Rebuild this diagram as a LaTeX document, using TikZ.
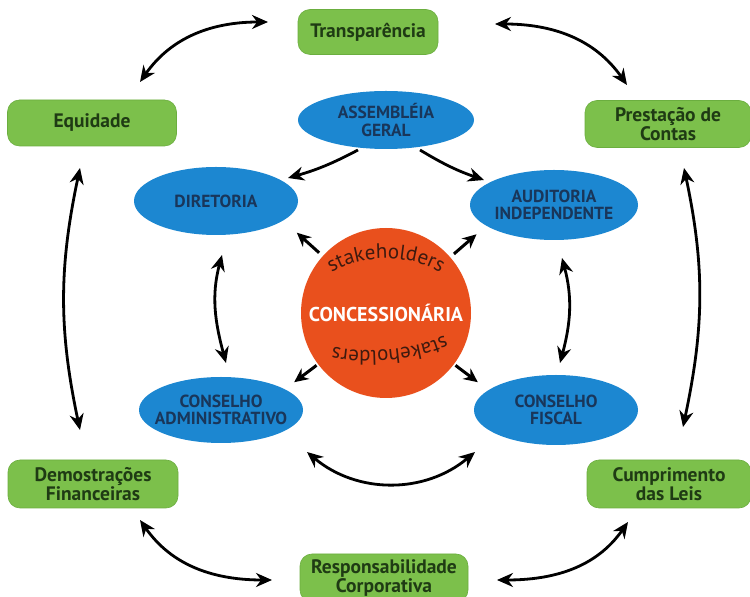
\documentclass[tikz,border=0pt]{standalone}
\usepackage{fontspec}
\setmainfont{PT Sans}
\usetikzlibrary{arrows.meta,shapes.geometric,decorations.text}

\definecolor{boxgreen}{HTML}{7CC04B}
\definecolor{boxgreenedge}{HTML}{6BAE3F}
\definecolor{greentext}{HTML}{1F3B14}
\definecolor{ellblue}{HTML}{1C87D1}
\definecolor{bluetext}{HTML}{19365A}
\definecolor{coreorange}{HTML}{E9501D}
\definecolor{staketext}{HTML}{3E1A0F}

\begin{document}
\begin{tikzpicture}[x=1pt,y=1pt,
  greenbox/.style={rectangle, rounded corners=12pt, fill=boxgreen, draw=boxgreenedge,
    line width=0.6pt, text=greentext, align=center, inner sep=0pt,
    font=\fontsize{19.5}{17.5}\bfseries},
  blueell/.style={ellipse, fill=ellblue, inner sep=0pt},
  bluetxt/.style={text=bluetext, align=center, font=\fontsize{17.5}{17.5}\bfseries},
  link/.style={line width=2.8pt, {Stealth[length=16pt,width=14pt]}-{Stealth[length=16pt,width=14pt]}},
  oneway/.style={line width=2.8pt, -{Stealth[length=16pt,width=14pt]}},
  outarrow/.style={line width=3pt, -{Stealth[length=14pt,width=13pt]}},
  stake/.style={decorate, decoration={text along path, text align=center,
    text color=staketext, text={|\fontsize{21}{21}\selectfont|stakeholders}}}
]
\useasboundingbox (0,0) rectangle (750,597);

% outer ring of principles
\node[greenbox, minimum width=140pt, minimum height=45pt] (trans) at (368,565) {Transparência};
\node[greenbox, minimum width=169pt, minimum height=46pt] (equid) at (92,474) {Equidade};
\node[greenbox, minimum width=166pt, minimum height=47pt] (prest) at (668,473) {Prestação de\\Contas};
\node[greenbox, minimum width=170pt, minimum height=48pt] (demo) at (93,113) {Demostrações\\Financeiras};
\node[greenbox, minimum width=164pt, minimum height=48pt] (cumpr) at (669,113) {Cumprimento\\das Leis};
\node[greenbox, minimum width=168pt, minimum height=48pt] (resp) at (384,19) {Responsabilidade\\Corporativa};

% governance bodies
\node[blueell, minimum width=176pt, minimum height=58pt,
  label={[bluetxt]center:ASSEMBLÉIA\\GERAL}] (assem) at (386,477) {};
\node[blueell, minimum width=164pt, minimum height=68pt,
  label={[bluetxt]center:DIRETORIA}] (dir) at (216,396) {};
\node[blueell, minimum width=168pt, minimum height=70pt,
  label={[bluetxt]center:AUDITORIA\\INDEPENDENTE}] (aud) at (554,392) {};
\node[blueell, minimum width=164pt, minimum height=66pt,
  label={[bluetxt]center:CONSELHO\\ADMINISTRATIVO}] (cadm) at (221,187) {};
\node[blueell, minimum width=164pt, minimum height=70pt,
  label={[bluetxt]center:CONSELHO\\FISCAL}] (cfis) at (556,187) {};

% core
\node[circle, fill=coreorange, minimum size=170pt, inner sep=0pt, text=white,
  font=\fontsize{20}{20}\bfseries] (core) at (386,284) {CONCESSIONÁRIA};
\path[stake] (316,310) .. controls (345,348) and (427,348) .. (456,310);
\path[stake] (458,270) .. controls (430,245) and (345,240) .. (318,255);

% arrow end points around the outer ring
\coordinate (tlA) at (268,575);  \coordinate (tlB) at (140,515);
\coordinate (trA) at (495,573);  \coordinate (trB) at (627,512);
\coordinate (rA) at (684,429);   \coordinate (rB) at (683,170);
\coordinate (lA) at (80,429);    \coordinate (lB) at (80,167);
\coordinate (blA) at (140,77);   \coordinate (blB) at (272,17);
\coordinate (brA) at (497,17);   \coordinate (brB) at (628,75);

\draw[link] (tlA) to[out=180,in=55] (tlB);
\draw[link] (trA) to[out=0,in=125] (trB);
\draw[link] (rA) to[out=-78,in=78] (rB);
\draw[link] (lA) to[out=-102,in=102] (lB);
\draw[link] (blA) to[out=-55,in=180] (blB);
\draw[link] (brA) to[out=0,in=235] (brB);

% inner links
\coordinate (adA) at (358,447);  \coordinate (adB) at (288,419);
\coordinate (aaA) at (420,447);  \coordinate (aaB) at (484,417);
\coordinate (dcA) at (222,342);  \coordinate (dcB) at (226,234);
\coordinate (afA) at (562,339);  \coordinate (afB) at (560,234);
\coordinate (ccA) at (307,145);  \coordinate (ccB) at (475,145);

\draw[oneway] (adA) to[bend left=6] (adB);
\draw[oneway] (aaA) to[bend right=6] (aaB);
\draw[link] (dcA) to[out=-105,in=105] (dcB);
\draw[link] (afA) to[out=-75,in=75] (afB);
\draw[link] (ccA) to[out=-40,in=220] (ccB);

% stakeholder arrows leaving the core
\draw[outarrow] (core.center) ++(138:90) -- ++(138:30);
\draw[outarrow] (core.center) ++(41:90) -- ++(41:30);
\draw[outarrow] (core.center) ++(217:87) -- ++(217:28);
\draw[outarrow] (core.center) ++(-37:87) -- ++(-37:28);
\end{tikzpicture}
\end{document}
